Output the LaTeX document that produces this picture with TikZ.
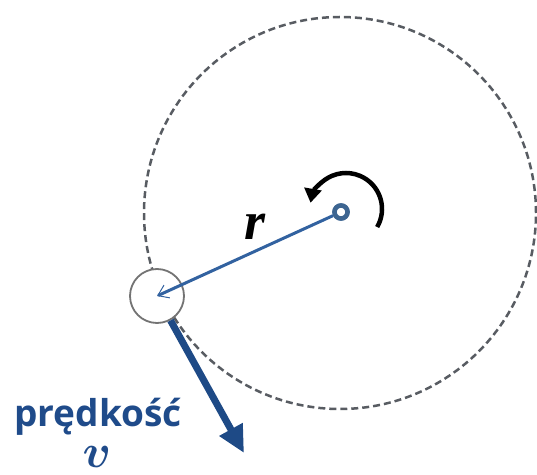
\documentclass[tikz,border=0pt]{standalone}
\usepackage{amsmath}
\usepackage{fontspec}
\newfontfamily\labfont{Open Sans}
\newfontfamily\rfont{Liberation Serif}
\usetikzlibrary{arrows.meta,calc}
\definecolor{dashgray}{RGB}{88,92,98}
\definecolor{ballgray}{RGB}{115,115,115}
\definecolor{radblue}{RGB}{50,98,160}
\definecolor{velblue}{RGB}{30,74,134}
\definecolor{txtblue}{RGB}{31,75,138}
\definecolor{hubblue}{RGB}{61,101,145}
\tikzset{
  orbit/.style={draw=dashgray,line width=2.5pt,dash pattern=on 7pt off 4pt},
  ball/.style={circle,draw=ballgray,line width=1.8pt,fill=white,minimum size=54pt,inner sep=0pt},
  hubring/.style={circle,draw=hubblue,line width=4.5pt,fill=white,minimum size=13pt,inner sep=0pt},
  radarrow/.style={draw=radblue,line width=3pt,-{Straight Barb[length=10pt,width=14pt,line width=1pt]}},
  velarrow/.style={draw=velblue,line width=7pt,-{Triangle[length=27pt,width=25pt]}},
  rotarrow/.style={draw=black,line width=4.5pt,-{Triangle[length=14pt,width=17pt]}},
}
\begin{document}
\begin{tikzpicture}[x=1pt,y=1pt]
\useasboundingbox (0,0) rectangle (537,474);
\coordinate (C) at (340,261);
\draw[orbit] (C) circle[radius=196];
\node[ball] (ball) at (157,178) {};
\coordinate (vtip) at (244,21);
\draw[velarrow] (ball) -- (vtip);
\node[hubring] (hub) at (341,262) {};
\draw[radarrow] (hub) -- (ball.center);
\node[hubring] (hubtop) at (341,262) {};
\coordinate (rc) at (346,265);
\draw[rotarrow] ($(rc)+(-30:36)$) arc[start angle=-30,end angle=170,radius=36];
\node[font=\rfont\bfseries\itshape\fontsize{54}{58}\selectfont,anchor=base,inner sep=0pt] (rlab) at (255,234) {r};
\node[font=\labfont\bfseries\fontsize{37}{42}\selectfont,text=txtblue,anchor=base,inner sep=0pt] (plab) at (98,48) {prędkość};
\node[font=\Huge,scale=1.9,text=txtblue,anchor=base,inner sep=0pt] (vlab) at (97,7) {$\boldsymbol{v}$};
\end{tikzpicture}
\end{document}
